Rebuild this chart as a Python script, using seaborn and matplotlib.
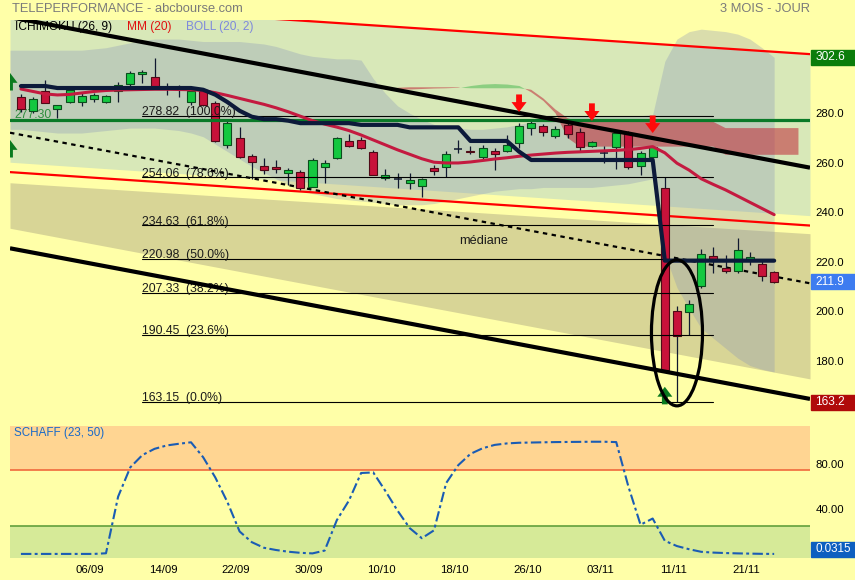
import numpy as np
import pandas as pd
import matplotlib
matplotlib.use("Agg")
import matplotlib.pyplot as plt
import seaborn as sns
from matplotlib.patches import Ellipse, Rectangle, Polygon
from matplotlib.transforms import blended_transform_factory

sns.set_style("white")
plt.rcParams["font.family"] = ["Liberation Sans", "DejaVu Sans"]

# ---------------- data ----------------
dates = pd.bdate_range("2022-08-29", "2022-11-23")   # 63 trading days

opens = [286.7, 280.9, 288.8, 281.6, 284.5, 284.5, 285.9, 284.7, 288.8, 291.9,
         295.9, 294.8, 290.1, 290.1, 284.7, 288.8, 284.3, 267.2, 269.9, 262.9,
         258.7, 258.4, 255.7, 256.1, 250.3, 258.4, 261.8, 268.8, 269.2, 264.5,
         253.7, 253.4, 252.0, 250.7, 257.8, 258.2, 265.5, 264.9, 262.5, 264.8,
         264.9, 267.9, 274.0, 274.9, 271.0, 275.3, 272.3, 266.9, 264.0, 266.5,
         271.6, 258.8, 262.5, 249.7, 200.1, 199.8, 210.0, 222.3, 217.6, 216.4,
         220.7, 219.0, 215.7]
highs = [287.8, 286.5, 293.5, 283.5, 289.8, 288.1, 288.3, 287.5, 292.8, 297.0,
         297.5, 302.2, 292.1, 291.5, 290.1, 289.5, 285.0, 277.0, 274.6, 263.5,
         261.8, 261.0, 257.8, 257.0, 262.0, 261.2, 270.3, 271.8, 270.5, 265.2,
         257.5, 255.7, 255.8, 254.0, 259.1, 264.9, 269.0, 266.8, 267.0, 265.8,
         271.2, 276.2, 276.9, 275.5, 274.8, 276.0, 273.9, 268.8, 266.8, 273.0,
         273.0, 264.9, 266.8, 254.1, 202.0, 204.5, 225.1, 226.1, 222.7, 229.5,
         224.1, 220.7, 216.4]
lows = [280.7, 280.0, 284.0, 278.2, 284.0, 283.0, 284.7, 284.3, 284.7, 291.0,
        292.1, 290.1, 287.4, 286.5, 283.4, 283.0, 268.5, 265.8, 261.8, 253.3,
        255.5, 255.8, 251.0, 248.8, 250.0, 251.6, 261.5, 266.5, 265.5, 255.0,
        253.0, 249.7, 249.5, 246.0, 255.1, 254.4, 264.1, 263.4, 261.0, 257.1,
        264.5, 265.8, 271.2, 270.6, 270.0, 270.1, 264.9, 266.2, 259.8, 257.4,
        257.5, 255.1, 262.0, 175.5, 163.2, 190.3, 209.5, 215.6, 215.6, 215.5,
        218.7, 212.0, 211.3]
closes = [281.8, 285.9, 284.3, 283.2, 289.4, 287.0, 287.4, 287.0, 291.5, 296.2,
          296.8, 290.8, 290.1, 290.1, 288.8, 283.4, 268.8, 276.0, 262.2, 260.2,
          257.1, 257.5, 257.1, 249.7, 261.1, 260.0, 269.9, 266.9, 265.8, 255.1,
          255.1, 253.4, 253.1, 253.4, 256.8, 263.4, 265.5, 264.2, 265.8, 263.4,
          267.2, 274.9, 276.0, 272.6, 273.5, 271.5, 266.3, 268.3, 264.0, 272.2,
          258.4, 263.8, 266.3, 176.2, 190.0, 202.8, 223.1, 220.4, 216.4, 224.7,
          221.8, 214.4, 211.9]

mm20 = [289.8, 288.8, 287.8, 287.4, 287.6, 288.2, 288.8, 289.2, 289.4, 289.5,
        289.6, 289.7, 289.7, 289.6, 289.5, 289.2, 288.3, 287.2, 286.0, 284.8,
        283.6, 282.2, 280.6, 278.8, 277.0, 275.6, 274.4, 273.0, 271.2, 269.2,
        267.2, 265.2, 263.4, 261.6, 260.2, 259.9, 259.9, 260.3, 260.9, 261.5,
        262.0, 262.6, 263.1, 263.5, 263.9, 264.2, 264.4, 264.6, 264.8, 265.0,
        265.3, 265.8, 266.5, 264.0, 259.8, 257.0, 253.5, 251.2, 249.0, 246.5,
        244.0, 241.5, 239.0]

kijun = [291.0, 291.0, 291.0, 290.2, 290.2, 290.2, 290.2, 290.2, 290.2, 290.2,
         290.2, 290.2, 290.2, 290.2, 290.2, 289.5, 287.5, 284.5, 281.0, 278.6,
         277.6, 277.6, 277.0, 276.0, 276.0, 276.0, 276.0, 276.0, 275.3, 275.3,
         275.3, 275.3, 274.3, 274.3, 274.3, 274.3, 274.3, 268.8, 268.8, 268.8,
         268.8, 264.5, 261.1, 261.1, 261.1, 261.1, 261.1, 261.1, 261.1, 261.1,
         261.1, 261.1, 261.1, 220.4, 220.4, 220.4, 220.4, 220.4, 220.4, 220.4,
         220.4, 220.4, 220.4]

boll_up = [305.5, 305.5, 305.5, 305.5, 305.5, 305.5, 306.0, 306.5, 307.5, 308.5,
           309.5, 310.0, 310.0, 310.0, 309.5, 309.0, 309.0, 309.0, 309.0, 308.5,
           308.0, 307.0, 305.5, 304.0, 303.0, 302.5, 302.0, 302.0, 301.5, 294.0,
           288.0, 283.0, 280.0, 277.5, 275.5, 274.5, 274.0, 273.5, 273.5, 274.0,
           274.5, 275.5, 276.5, 277.0, 278.0, 278.5, 279.0, 279.0, 279.0, 279.0,
           279.0, 279.0, 279.5, 301.0, 310.0, 313.0, 314.0, 313.5, 313.0, 312.0,
           310.0, 306.5, 302.6]
boll_lo = [273.5, 273.0, 272.5, 272.0, 272.0, 272.0, 272.5, 273.0, 273.5, 274.0,
           274.0, 274.0, 273.5, 273.0, 272.0, 270.5, 267.5, 264.5, 261.5, 258.5,
           256.0, 253.5, 251.0, 249.0, 247.5, 246.5, 245.5, 245.0, 244.5, 244.0,
           243.5, 243.0, 243.0, 243.0, 243.5, 244.5, 245.5, 246.5, 247.5, 248.5,
           249.0, 249.5, 249.5, 250.0, 250.0, 250.0, 250.0, 250.0, 250.5, 251.0,
           251.5, 252.5, 253.5, 223.0, 209.5, 201.0, 193.0, 189.0, 185.0, 181.0,
           178.0, 176.5, 175.4]

# Ichimoku cloud (projected spans), sessions 31..64
kumo_start = 31
kumo_a = [289.5, 289.6, 289.8, 290.0, 290.1, 290.3, 291.2, 291.8, 292.0, 291.8,
          291.2, 288.5, 285.0, 280.0, 270.0, 266.5, 266.5, 266.5, 266.5, 266.5,
          266.5, 266.5, 266.5, 266.5, 266.5, 266.5, 266.5, 263.2, 263.2, 263.2,
          263.2, 263.2, 263.2, 263.2]
kumo_b = [290.3, 290.5, 290.5, 290.5, 290.5, 290.5, 290.3, 290.3, 290.3, 290.3,
          290.3, 289.5, 286.0, 281.5, 278.0, 276.5, 276.5, 276.5, 276.5, 276.5,
          276.5, 276.5, 276.5, 276.5, 276.5, 276.5, 276.5, 274.0, 274.0, 274.0,
          274.0, 274.0, 274.0, 274.0]

schaff = [0.03, 0.03, 0.03, 0.03, 0.03, 0.03, 0.03, 0.6, 51.0, 77.0,
          88.0, 93.5, 96.5, 98.0, 99.3, 86.0, 68.0, 46.0, 20.0, 10.5,
          5.5, 3.5, 2.0, 1.0, 0.5, 3.0, 30.0, 47.5, 72.0, 72.5,
          56.0, 38.5, 23.0, 14.0, 21.0, 63.0, 79.0, 89.0, 94.0, 97.0,
          98.3, 98.9, 99.1, 99.3, 99.5, 99.6, 99.7, 99.8, 99.8, 99.5,
          60.0, 26.0, 31.5, 11.7, 7.0, 4.2, 1.9, 1.2, 0.8, 0.5,
          0.3, 0.1, 0.03]

tick_dates = ["2022-09-06", "2022-09-14", "2022-09-22", "2022-09-30", "2022-10-10",
              "2022-10-18", "2022-10-26", "2022-11-03", "2022-11-11", "2022-11-21"]

fib_values = [278.82, 254.06, 234.63, 220.98, 207.33, 190.45, 163.15]
fib_pcts = ["100.0%", "78.6%", "61.8%", "50.0%", "38.2%", "23.6%", "0.0%"]
fib_span = [10, 57]
support_level = 277.30

# straight channels: values at the left / right plot edges
chan_x = [-0.9, 64.95]
black_upper = [318.85, 258.0]
black_lower = [225.4, 164.5]
red_upper = [325.2, 303.9]
red_lower = [256.2, 234.6]
green_zone_low = [260.2, 238.6]
khaki_zone_top = [251.9, 231.3]
khaki_zone_bot = [233.5, 172.6]

sell_idx = [41, 47, 52]
sell_tip = [280.5, 276.9, 272.0]
buy_idx = [-0.9, -0.9, 53]
buy_tip = [296.3, 269.2, 169.4]

ellipse_center = (54, 191.2)
ellipse_size = (4.2, 59.0)

last_boll_up = 302.6
last_close = 211.9
last_chan = 163.2
last_schaff = 0.0315

df = pd.DataFrame({"i": np.arange(len(dates)), "open": opens, "high": highs,
                   "low": lows, "close": closes, "mm20": mm20, "kijun": kijun,
                   "up": boll_up, "lo": boll_lo, "schaff": schaff})

# ---------------- figure ----------------
BG = "#ffffa8"
fig = plt.figure(figsize=(8.55, 5.8), dpi=100, facecolor=BG)
ax = fig.add_axes([10 / 855, 165 / 580, 800 / 855, 395 / 580])
ax2 = fig.add_axes([10 / 855, 22 / 580, 800 / 855, 132 / 580])
for a in (ax, ax2):
    a.set_facecolor(BG)
    for s in a.spines.values():
        s.set_visible(False)

XL = (-0.9, 64.95)
ax.set_xlim(*XL)
ax.set_ylim(158.0, 317.7)

# background zones
ax.fill_between(chan_x, green_zone_low, red_upper, color="#d8e8b8", lw=0, zorder=0.5)
ax.fill_between(chan_x, khaki_zone_bot, khaki_zone_top, color="#d8d596", lw=0, zorder=0.6)

# Bollinger band fill
bx = np.concatenate([[XL[0]], df["i"].values])
bu = np.concatenate([[boll_up[0]], df["up"].values])
bl = np.concatenate([[boll_lo[0]], df["lo"].values])
ax.fill_between(bx, bl, bu, color="#8590b8", alpha=0.30, lw=0, zorder=0.7)

# Ichimoku cloud
kx = np.arange(kumo_start, kumo_start + len(kumo_a))
ka, kb = np.array(kumo_a), np.array(kumo_b)
ax.fill_between(kx, ka, kb, where=ka <= kb, interpolate=True, color="#c02838",
                alpha=0.55, lw=0, zorder=0.8)
ax.fill_between(kx, ka, kb, where=ka > kb, interpolate=True, color="#30b040",
                alpha=0.45, lw=0, zorder=0.8)

# channels
ax.plot(chan_x, red_upper, color="#ff0000", lw=1.6, zorder=2)
ax.plot(chan_x, red_lower, color="#ff0000", lw=1.6, zorder=2)
ax.plot(chan_x, black_upper, color="black", lw=3.0, zorder=4.0, solid_capstyle="butt")
ax.plot(chan_x, black_lower, color="black", lw=3.0, zorder=4.0, solid_capstyle="butt")
median = [(a + b) / 2 for a, b in zip(black_upper, black_lower)]
ax.plot(chan_x, median, color="black", lw=1.6, ls=(0, (2, 2)), zorder=2.1)
ax.text(36.05, 228.4, "médiane", fontsize=9.2, color="#1a1a1a", va="center", ha="left")

# candles
up = df["close"] > df["open"]
dn = df["close"] < df["open"]
dj = df["close"] == df["open"]
ax.vlines(df["i"], df["low"], df["high"], color="#101830", lw=0.9, zorder=3)
W = 0.66
ax.bar(df.loc[up, "i"], (df["close"] - df["open"])[up], bottom=df.loc[up, "open"],
       width=W, color="#14c840", edgecolor="#0b4d1c", lw=0.8, zorder=3.1)
ax.bar(df.loc[dn, "i"], (df["open"] - df["close"])[dn], bottom=df.loc[dn, "close"],
       width=W, color="#c8123a", edgecolor="#4f0a16", lw=0.8, zorder=3.1)
ax.hlines(df.loc[dj, "close"], df.loc[dj, "i"] - W / 2, df.loc[dj, "i"] + W / 2,
          color="#101830", lw=1.1, zorder=3.1)

# fibonacci levels (over candles)
for v, p in zip(fib_values, fib_pcts):
    ax.plot(fib_span, [v, v], color="black", lw=0.8, zorder=3.3)
    ax.text(fib_span[0], v + 0.35, f"{v:.2f}  ({p})", fontsize=8.8, color="#1a1a1a",
            va="baseline", ha="left", zorder=3.4)

# support line
ax.axhline(support_level, color="#0a7a28", lw=2.3, zorder=3.4)
ax.text(-0.5, support_level + 0.7, f"{support_level:.2f}", fontsize=8.8, color="#2e8e3e",
        va="baseline", ha="left", zorder=2.1)

# indicator lines
sns.lineplot(data=df, x="i", y="mm20", ax=ax, color="#c41a40", lw=2.2, zorder=3.5)
sns.lineplot(data=df, x="i", y="kijun", ax=ax, color="#0c1a3a", lw=3.0, zorder=3.6)
ax.set_xlabel("")
ax.set_ylabel("")


def arrow(x, tip, direction, color):
    hw, sw, hh, tl = 0.62, 0.24, 4.0, 7.1
    d = 1 if direction == "down" else -1
    pts = [(x, tip), (x - hw, tip + d * hh), (x - sw, tip + d * hh), (x - sw, tip + d * tl),
           (x + sw, tip + d * tl), (x + sw, tip + d * hh), (x + hw, tip + d * hh)]
    ax.add_patch(Polygon(pts, closed=True, color=color, lw=0, zorder=5))


for x, t in zip(sell_idx, sell_tip):
    arrow(x, t, "down", "#ff0a0a")
for x, t in zip(buy_idx, buy_tip):
    arrow(x, t, "up", "#0a7a1e")

ax.add_patch(Ellipse(ellipse_center, ellipse_size[0], ellipse_size[1], fill=False,
                     ec="black", lw=2.3, zorder=5))

# legend texts
ax.text(0.00625, 0.982, "ICHIMOKU (26, 9)", transform=ax.transAxes, fontsize=8.6,
        color="black", va="center", zorder=1)
ax.text(0.146, 0.982, "MM (20)", transform=ax.transAxes, fontsize=8.6,
        color="#e01010", va="center", zorder=1)
ax.text(0.22, 0.982, "BOLL (20, 2)", transform=ax.transAxes, fontsize=8.6,
        color="#7d88dc", va="center", zorder=1)

# right axis
ax.set_xticks([])
ax.yaxis.tick_right()
yt = [180, 200, 220, 240, 260, 280]
ax.set_yticks(yt)
ax.set_yticklabels([f"{v:.1f}" for v in yt])
ax.tick_params(axis="y", length=0, pad=4, labelsize=8.2, labelcolor="black")

tr = blended_transform_factory(ax.transAxes, ax.transData)
for val, col in [(last_boll_up, "#0b7d0b"), (last_close, "#3d7cf0"), (last_chan, "#b00a0a")]:
    h = 6.1
    ax.add_patch(Rectangle((1.0015, val - h / 2), 0.06, h, transform=tr, color=col,
                           clip_on=False, zorder=10))
    ax.text(1.0065, val, f"{val:.1f}", transform=tr, color="white", fontsize=8.6,
            va="center", ha="left", zorder=11, clip_on=False)

# ---------------- Schaff panel ----------------
ax2.set_xlim(*XL)
ax2.set_ylim(-3.6, 113.8)
ax2.axhspan(75, 113.8, color="#ffd592", lw=0, zorder=0)
ax2.axhspan(-3.6, 25, color="#d6ea98", lw=0, zorder=0)
ax2.axhline(75, color="#f06a3c", lw=1.2, zorder=1)
ax2.axhline(25, color="#62a03c", lw=1.2, zorder=1)
sns.lineplot(data=df, x="i", y="schaff", ax=ax2, color="#1a5cb4", lw=1.5,
             linestyle=(0, (5, 1.6, 1.4, 1.6)), zorder=3)
ax2.set_xlabel("")
ax2.set_ylabel("")
ax2.text(0.005, 0.947, "SCHAFF (23, 50)", transform=ax2.transAxes, fontsize=8.4,
         color="#1a6ac8", va="center", ha="left")

pos = [dates.get_loc(pd.Timestamp(d)) for d in tick_dates]
ax2.set_xticks([p - 0.3 for p in pos])
ax2.set_xticklabels([dates[p].strftime("%d/%m") for p in pos])
ax2.yaxis.tick_right()
ax2.set_yticks([40, 80])
ax2.set_yticklabels(["40.00", "80.00"])
ax2.tick_params(axis="both", length=0, labelsize=8.2, labelcolor="black")
ax2.tick_params(axis="x", pad=5)
ax2.tick_params(axis="y", pad=4)

tr2 = blended_transform_factory(ax2.transAxes, ax2.transData)
h2 = 13.3
yc = max(last_schaff, -3.6 + h2 / 2 + 1.3)
ax2.add_patch(Rectangle((1.0015, yc - h2 / 2), 0.06, h2, transform=tr2, color="#0d5fc0",
                        clip_on=False, zorder=10))
ax2.text(1.0065, yc, f"{last_schaff:.4f}", transform=tr2, color="white", fontsize=8.4,
         va="center", ha="left", zorder=11, clip_on=False)

# header
fig.text(12 / 855, 1 - 9 / 580, "TELEPERFORMANCE - abcbourse.com", fontsize=9.3,
         color="#7a7a7a", va="center", ha="left")
fig.text(810 / 855, 1 - 9 / 580, "3 MOIS - JOUR", fontsize=9.3, color="#7a7a7a",
         va="center", ha="right")

fig.savefig("out.png", dpi=100, facecolor=BG)
